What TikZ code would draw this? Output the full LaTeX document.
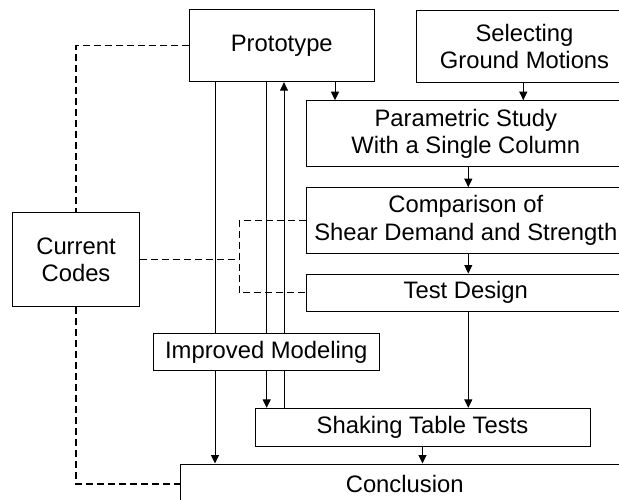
\documentclass[tikz,border=0pt]{standalone}
\usepackage{fontspec}
\setmainfont{Liberation Sans}
\usetikzlibrary{arrows.meta}

\tikzset{
  box/.style={draw, line width=1pt, fill=white, inner sep=0pt, align=center,
    font=\fontsize{23.8}{27.5}\selectfont},
  arr/.style={line width=1pt, -{Triangle[length=8.5pt,width=8pt]}},
  link/.style={line width=1pt},
  dashlink/.style={line width=1.2pt, dash pattern=on 7pt off 4pt},
}

\begin{document}
\begin{tikzpicture}[x=1pt, y=-1pt]
  \useasboundingbox (0,0) rectangle (619,499);
  \clip (0,0) rectangle (619,499);

  % boxes (some run past the right and bottom edges)
  \node[box, minimum width=185pt, minimum height=71.7pt] (proto) at (281.8,45.8) {Prototype};
  \node[box, minimum width=215.6pt, minimum height=72pt] (select) at (524.5,46.7) {Selecting\\Ground Motions};
  \node[box, minimum width=318.3pt, minimum height=66pt] (param) at (465.8,133.7) {Parametric Study\\With a Single Column};
  \node[box, minimum width=318.3pt, minimum height=65.6pt] (comp) at (465.8,220.5) {Comparison of\\Shear Demand and Strength};
  \node[box, minimum width=318.3pt, minimum height=37pt] (test) at (465.8,292.5) {Test Design};
  \node[box, minimum width=126.6pt, minimum height=94pt] (codes) at (76,259.7) {Current\\Codes};
  \node[box, minimum width=335pt, minimum height=37.7pt] (shake) at (422.5,427.2) {Shaking Table Tests};
  \node[box, minimum width=448pt, minimum height=40pt] (concl) at (404.7,484) {Conclusion};

  % column positions for vertical connectors
  \coordinate (x76) at (76,0);
  \coordinate (x215) at (215,0);
  \coordinate (x239) at (239.3,0);
  \coordinate (x267) at (266.7,0);
  \coordinate (x284) at (284,0);
  \coordinate (x335) at (335,0);
  \coordinate (x468) at (468.3,0);
  \coordinate (x523) at (523.3,0);

  % main flow
  \draw[arr] (x335 |- proto.south) -- (x335 |- param.north);
  \draw[arr] (x523 |- select.south) -- (x523 |- param.north);
  \draw[arr] (x468 |- param.south) -- (x468 |- comp.north);
  \draw[arr] (x468 |- comp.south) -- (x468 |- test.north);
  \draw[arr] (x468 |- test.south) -- (x468 |- shake.north);
  \draw[arr] (shake.south) -- (shake.south |- concl.north);

  % prototype loops
  \draw[arr] (x215 |- proto.south) -- (x215 |- concl.north);
  \draw[arr] (x267 |- proto.south) -- (x267 |- shake.north);
  \draw[arr] (x284 |- shake.north) -- (x284 |- proto.south);

  % code references
  \draw[dashlink] (proto.west) -- (x76 |- proto.west) -- (codes.north);
  \draw[dashlink] (codes.south) -- (x76 |- concl.west) -- (concl.west);
  \draw[dashlink] (codes.east) -- (x239 |- codes.east);
  \draw[dashlink] (comp.west) -- (x239 |- comp.west) -- (x239 |- test.west) -- (test.west);

  % modelling box sits over the loop lines
  \node[box, minimum width=226pt, minimum height=37.4pt] (impr) at (266.3,352) {Improved Modeling};
\end{tikzpicture}
\end{document}
